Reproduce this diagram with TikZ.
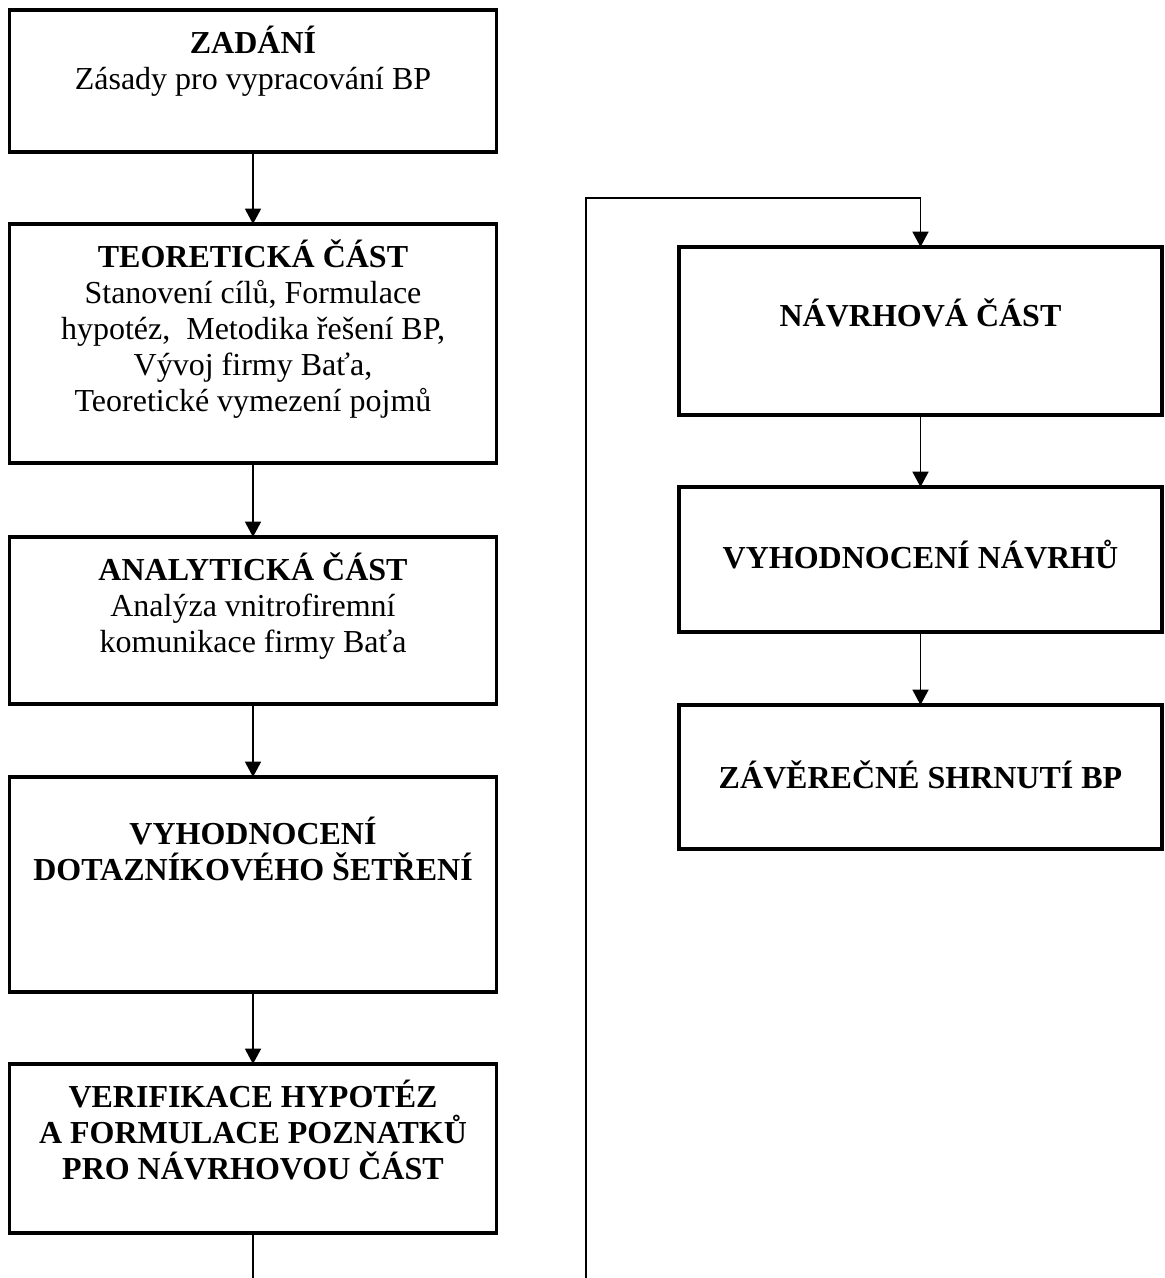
\documentclass[tikz,border=0pt]{standalone}
\usepackage{fontspec}
\setmainfont{Liberation Serif}
\usetikzlibrary{arrows.meta}
\begin{document}
\begin{tikzpicture}[x=0.75pt,y=-0.75pt,
  box/.style={draw, line width=2.5pt, rectangle, inner sep=0pt, outer sep=0pt},
  lbox/.style={box, minimum width=365.25pt},
  rbox/.style={box, minimum width=362.25pt},
  txt/.style={align=center, inner sep=0pt, anchor=north, font={\fontsize{24}{27}\selectfont\lineskiplimit=-\maxdimen}},
  conn/.style={line width=1.1pt},
  arr/.style={conn, -{Triangle[width=12pt,length=11.5pt]}}]
\useasboundingbox (0,0) rectangle (1164,1278);
% left column
\node[lbox, minimum height=106.5pt] (b1) at (253,81) {};
\node[lbox, minimum height=179.25pt] (b2) at (253,343.5) {};
\node[lbox, minimum height=125.25pt] (b3) at (253,620.5) {};
\node[lbox, minimum height=161.25pt] (b4) at (253,884.5) {};
\node[lbox, minimum height=126.75pt] (b5) at (253,1148.5) {};
% right column
\node[rbox, minimum height=126pt] (r1) at (920.5,331) {};
\node[rbox, minimum height=108.75pt] (r2) at (920.5,559.5) {};
\node[rbox, minimum height=108pt] (r3) at (920.5,777) {};
% texts
\node[txt] (t1) at (253,26) {\strut\textbf{ZADÁNÍ}\\Zásady pro vypracování BP};
\node[txt] (t2) at (253,239) {\strut\textbf{TEORETICKÁ ČÁST}\\Stanovení cílů, Formulace\\hypotéz,\ \ Metodika řešení BP,\\Vývoj firmy Baťa,\\Teoretické vymezení pojmů};
\node[txt] (t3) at (253,552) {\strut\textbf{ANALYTICKÁ ČÁST}\\Analýza vnitrofiremní\\komunikace firmy Baťa};
\node[txt] (t4) at (253,817) {\strut\textbf{VYHODNOCENÍ}\\\textbf{DOTAZNÍKOVÉHO ŠETŘENÍ}};
\node[txt] (t5) at (253,1080) {\strut\textbf{VERIFIKACE HYPOTÉZ}\\\textbf{A FORMULACE POZNATKŮ}\\\textbf{PRO NÁVRHOVOU ČÁST}};
\node[txt] (u1) at (920.5,298) {\strut\textbf{NÁVRHOVÁ ČÁST}};
\node[txt] (u2) at (920.5,540) {\strut\textbf{VYHODNOCENÍ NÁVRHŮ}};
\node[txt] (u3) at (920.5,760) {\strut\textbf{ZÁVĚREČNÉ SHRNUTÍ BP}};
% connectors
\draw[arr] (b1.south) -- (b2.north);
\draw[arr] (b2.south) -- (b3.north);
\draw[arr] (b3.south) -- (b4.north);
\draw[arr] (b4.south) -- (b5.north);
\coordinate (e1) at (253,1278);
\draw[conn] (b5.south) -- (e1);
\coordinate (e2) at (586,1278);
\coordinate (k) at (586,198);
\draw[arr] (e2) -- (k) -| (r1.north);
\draw[arr] (r1.south) -- (r2.north);
\draw[arr] (r2.south) -- (r3.north);
\end{tikzpicture}
\end{document}
